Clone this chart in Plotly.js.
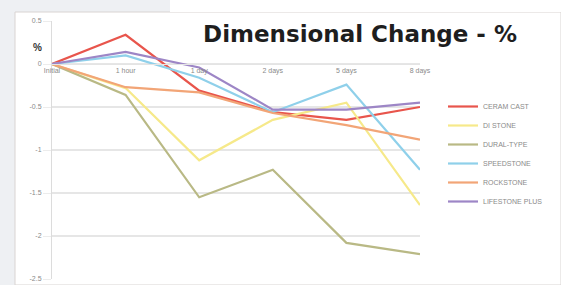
<!DOCTYPE html>
<html>
<head>
<meta charset="utf-8">
<script src="https://cdn.plot.ly/plotly-3.0.1.min.js"></script>
<style>html,body{margin:0;padding:0;background:#eef0f3;}#chart{width:561px;height:285px;}</style>
</head>
<body>
<div id="chart"></div>
<script>
const categories = ["Initial", "1 hour", "1 day", "2 days", "5 days", "8 days"];
const seriesNames = ["CERAM CAST", "DI STONE", "DURAL-TYPE", "SPEEDSTONE", "ROCKSTONE", "LIFESTONE PLUS"];
const seriesColors = ["#e8554c", "#f6e98a", "#b9b985", "#8fd0ea", "#f2a577", "#9d86c6"];
const redValues    = [0, 0.34, -0.31, -0.56, -0.65, -0.50];
const yellowValues = [0, -0.28, -1.12, -0.65, -0.45, -1.64];
const oliveValues  = [0, -0.36, -1.55, -1.23, -2.08, -2.21];
const blueValues   = [0, 0.10, -0.16, -0.56, -0.24, -1.23];
const orangeValues = [0, -0.27, -0.33, -0.57, -0.71, -0.88];
const purpleValues = [0, 0.14, -0.04, -0.53, -0.53, -0.45];
const yTickValues = [0.5, 0, -0.5, -1, -1.5, -2, -2.5];
const yTickLabels = ["0.5", "0", "-0.5", "-1", "-1.5", "-2", "-2.5"];

const allValues = [redValues, yellowValues, oliveValues, blueValues, orangeValues, purpleValues];
const traces = allValues.map((vals, i) => ({
  type: "scatter", mode: "lines",
  x: categories, y: vals, name: seriesNames[i],
  line: {color: seriesColors[i], width: 2.2}
}));

// plot area: x 52..420, y 21..279
const L = 52, R = 420, T = 21, B = 279, W = 561, H = 285;
const px = v => (v - L) / (R - L);
const py = v => (B - v) / (B - T);

const layout = {
  width: W, height: H,
  margin: {l: L, r: W - R, t: T, b: H - B, pad: 0},
  paper_bgcolor: "#eef0f3",
  plot_bgcolor: "rgba(0,0,0,0)",
  showlegend: true,
  title: {
    text: "Dimensional Change - %",
    x: 360 / W, xref: "container", xanchor: "center",
    y: 1 - 34 / H, yref: "container", yanchor: "middle",
    font: {family: "DejaVu Sans", size: 23, color: "#1e1e1e", weight: "bold"}
  },
  xaxis: {
    type: "category", range: [0, 5],
    anchor: "free", position: 2.5 / 3,
    showgrid: false, zeroline: false,
    showline: true, linecolor: "#e4e4e4", linewidth: 1,
    ticks: "", tickfont: {family: "Liberation Sans", size: 7, color: "#8a8a8a"},
    fixedrange: true
  },
  yaxis: {
    range: [-2.5, 0.5],
    tickvals: yTickValues, ticktext: yTickLabels,
    showgrid: true, gridcolor: "#e6e6e6", gridwidth: 1.5,
    zeroline: false,
    showline: true, linecolor: "#dcdcdc", linewidth: 1,
    ticks: "outside", ticklen: 8, tickcolor: "#ececec",
    tickfont: {family: "Liberation Sans", size: 7, color: "#8a8a8a"},
    fixedrange: true
  },
  legend: {
    x: px(443), y: py(92), xanchor: "left", yanchor: "top",
    bgcolor: "rgba(0,0,0,0)",
    font: {family: "Liberation Sans", size: 7, color: "#8a8a8a"},
    itemwidth: 30, tracegroupgap: 0
  },
  shapes: [
    {type: "rect", xref: "paper", yref: "paper", layer: "below",
     x0: px(15), x1: px(561), y0: py(285), y1: py(12),
     fillcolor: "#ffffff", line: {color: "#d9d4d2", width: 1}},
    {type: "rect", xref: "paper", yref: "paper", layer: "below",
     x0: px(170), x1: px(561), y0: py(12), y1: py(0),
     fillcolor: "#ffffff", line: {width: 0}}
  ],
  annotations: [
    {text: "%", xref: "paper", yref: "paper", x: px(31), y: py(40),
     showarrow: false, font: {family: "Liberation Sans", size: 10, color: "#333", weight: "bold"}}
  ]
};

Plotly.newPlot("chart", traces, layout, {displayModeBar: false, staticPlot: true});
</script>
</body>
</html>
